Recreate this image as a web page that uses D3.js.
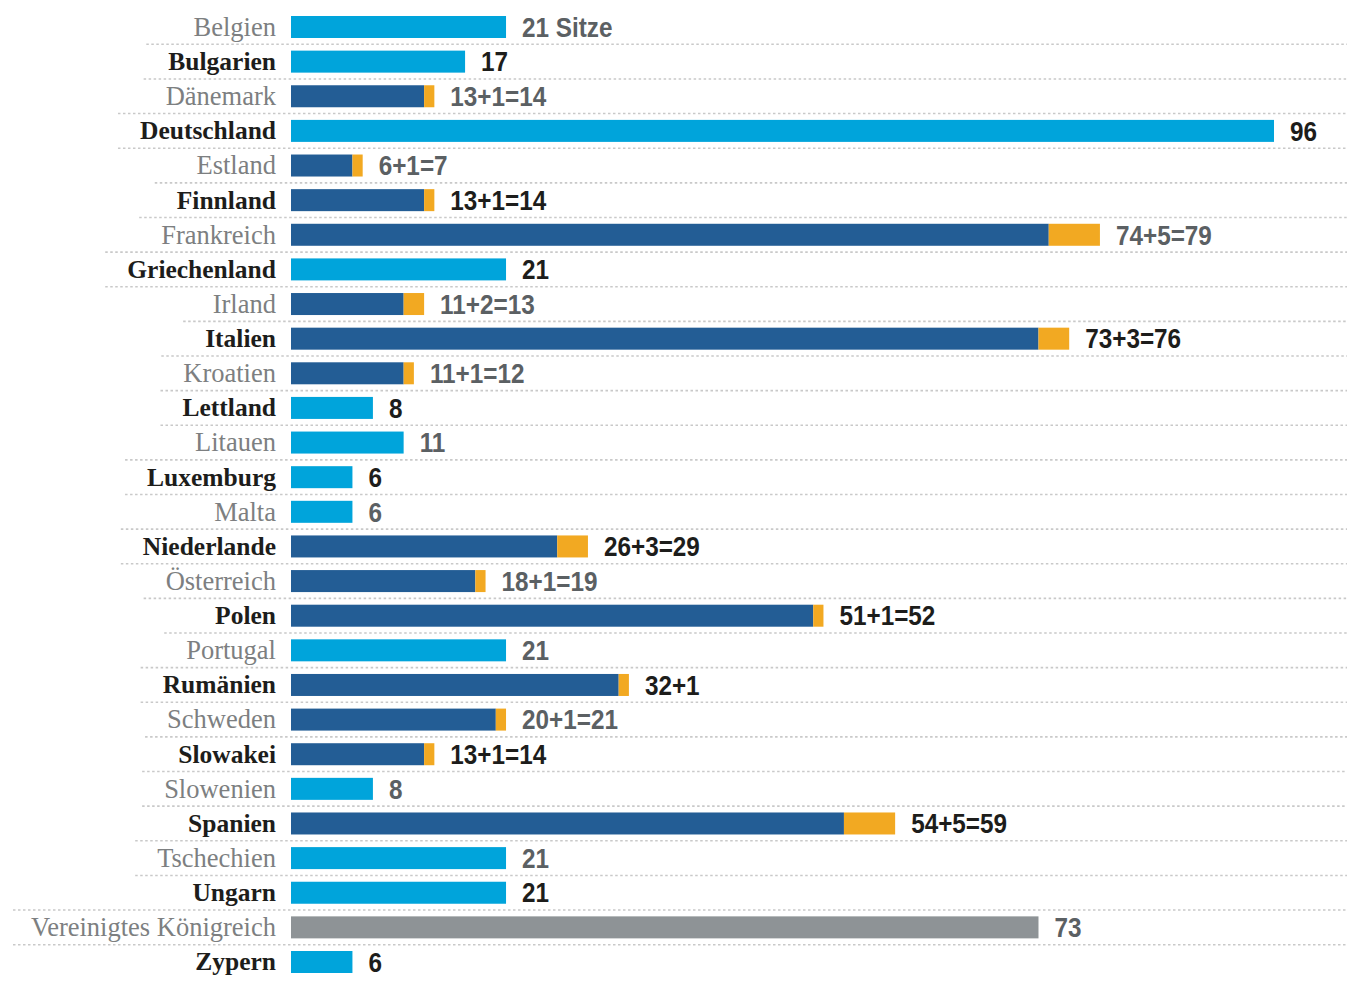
<!DOCTYPE html>
<html>
<head>
<meta charset="utf-8">
<script src="https://cdn.jsdelivr.net/npm/d3@7"></script>
<style>
  html, body { margin: 0; padding: 0; background: #fff; }
  svg { display: block; }
  .label { font-family: "Liberation Serif", "Times New Roman", serif; }
  .value { font-family: "Liberation Sans Narrow", "Arial Narrow", "Liberation Sans", sans-serif; font-size: 27px; font-weight: 700; }
</style>
</head>
<body>
<div id="chart"></div>
<script>
const width = 1347;
const height = 983;

const countries = ["Belgien", "Bulgarien", "Dänemark", "Deutschland", "Estland", "Finnland",
  "Frankreich", "Griechenland", "Irland", "Italien", "Kroatien", "Lettland", "Litauen",
  "Luxemburg", "Malta", "Niederlande", "Österreich", "Polen", "Portugal", "Rumänien",
  "Schweden", "Slowakei", "Slowenien", "Spanien", "Tschechien", "Ungarn",
  "Vereinigtes Königreich", "Zypern"];
const seats = [21, 17, 13, 96, 6, 13, 74, 21, 11, 73, 11, 8, 11, 6, 6, 26, 18, 51, 21, 32,
  20, 13, 8, 54, 21, 21, 73, 6];
const extraSeats = [0, 0, 1, 0, 1, 1, 5, 0, 2, 3, 1, 0, 0, 0, 0, 3, 1, 1, 0, 1, 1, 1, 0, 5,
  0, 0, 0, 0];
const valueLabels = ["21 Sitze", "17", "13+1=14", "96", "6+1=7", "13+1=14", "74+5=79", "21",
  "11+2=13", "73+3=76", "11+1=12", "8", "11", "6", "6", "26+3=29", "18+1=19", "51+1=52", "21",
  "32+1", "20+1=21", "13+1=14", "8", "54+5=59", "21", "21", "73", "6"];
const leaving = ["Vereinigtes Königreich"];

const colors = { same: "#00a4db", base: "#235d95", extra: "#f2a922", leaving: "#8e9396" };
const barHeight = 22;
const labelGap = 15;
const valueGap = 16;
const valueSquash = 0.9; // fake a condensed face

const rows = countries.map((name, i) => ({
  name,
  seats: seats[i],
  extra: extraSeats[i],
  label: valueLabels[i],
  emph: i % 2 === 1
}));

const svg = d3.select("#chart").append("svg")
  .attr("width", width)
  .attr("height", height);

const x = d3.scaleLinear().domain([0, 96]).range([291, 1274]);
const y = d3.scalePoint().domain(countries).range([27, 962]);
const step = y.step();

// Country labels
const labels = svg.append("g")
  .selectAll("text")
  .data(rows)
  .join("text")
  .attr("class", "label")
  .attr("x", x(0) - labelGap)
  .attr("y", (d) => y(d.name))
  .attr("dy", "0.33em")
  .attr("text-anchor", "end")
  .attr("fill", (d) => (d.emph ? "#1d1d1b" : "#7d7f81"))
  .attr("font-weight", (d) => (d.emph ? 700 : 400))
  .attr("font-size", (d) => (d.emph ? "25.5px" : "26.5px"))
  .text((d) => d.name);

// dotted separators, starting a bit left of the wider neighbour label
const lefts = labels.nodes().map((n) => n.getBBox().x);
const sep = rows.slice(0, -1).map((d, i) => ({
  y: y(d.name) + step / 2,
  x0: Math.max(13, Math.min(lefts[i], lefts[i + 1]) - 22)
}));
svg.insert("g", ":first-child")
  .selectAll("line")
  .data(sep)
  .join("line")
  .attr("x1", (d) => d.x0)
  .attr("x2", width)
  .attr("y1", (d) => d.y)
  .attr("y2", (d) => d.y)
  .attr("stroke", "#c9c9c9")
  .attr("stroke-width", 1.6)
  .attr("stroke-dasharray", "2.5,2.5");

// Bars
const bars = svg.append("g");
bars.selectAll("rect.main")
  .data(rows)
  .join("rect")
  .attr("class", "main")
  .attr("x", x(0))
  .attr("y", (d) => y(d.name) - barHeight / 2)
  .attr("width", (d) => x(d.seats) - x(0))
  .attr("height", barHeight)
  .attr("fill", (d) => leaving.includes(d.name) ? colors.leaving : d.extra > 0 ? colors.base : colors.same);

bars.selectAll("rect.extra")
  .data(rows.filter((d) => d.extra > 0))
  .join("rect")
  .attr("class", "extra")
  .attr("x", (d) => x(d.seats))
  .attr("y", (d) => y(d.name) - barHeight / 2)
  .attr("width", (d) => x(d.seats + d.extra) - x(d.seats))
  .attr("height", barHeight)
  .attr("fill", colors.extra);

// Value labels
svg.append("g")
  .selectAll("text")
  .data(rows)
  .join("text")
  .attr("class", "value")
  .attr("transform", (d) => `translate(${x(d.seats + d.extra) + valueGap},${y(d.name)}) scale(${valueSquash},1)`)
  .attr("dy", "0.36em")
  .attr("fill", (d) => (d.emph ? "#1d1d1b" : "#5b6063"))
  .text((d) => d.label);
</script>
</body>
</html>
